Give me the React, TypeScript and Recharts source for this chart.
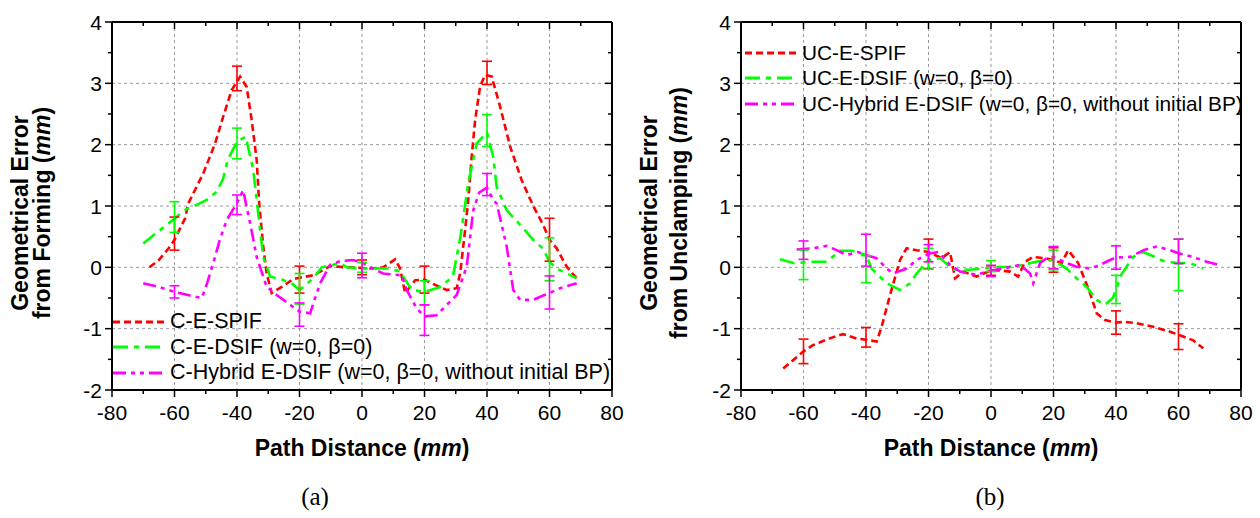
import React from 'react';
import { ComposedChart, Line, Scatter, XAxis, YAxis, ErrorBar, Legend, CartesianGrid } from 'recharts';

const FONT = '"Liberation Sans", Arial, Helvetica, sans-serif';

// ---------- axis ticks ----------
const xAllTicks = [-80, -70, -60, -50, -40, -30, -20, -10, 0, 10, 20, 30, 40, 50, 60, 70, 80];
const yAllTicks = [-2, -1.5, -1, -0.5, 0, 0.5, 1, 1.5, 2, 2.5, 3, 3.5, 4];
const gridX = [-60, -40, -20, 0, 20, 40, 60];
const gridY = [-1, 0, 1, 2, 3];
const errX = [-60, -40, -20, 0, 20, 40, 60];

// ---------- (a) forming ----------
const formSpif: [number, number][] = [
  [-68, 0.0], [-65, 0.12], [-61.4, 0.34], [-60, 0.45], [-56.6, 0.8], [-55.6, 1.04], [-50.8, 1.53], [-47, 2.02],
  [-44.4, 2.46], [-41.7, 2.89], [-39, 3.11], [-36.9, 2.94], [-35.3, 2.4], [-33.7, 1.75], [-32.9, 1.04],
  [-31.6, 0.34], [-30.5, -0.1], [-28.9, -0.42], [-25.7, -0.32], [-22, -0.19], [-20, -0.17], [-15.6, -0.13],
  [-10.2, 0.02], [-5, 0.0], [-2.8, 0.0], [2.6, -0.02], [6.8, 0.0], [10.6, 0.13], [12.2, -0.02], [13.8, -0.42],
  [17, -0.21], [20, -0.2], [22.3, -0.26], [27.1, -0.37], [30.3, -0.34], [31.4, -0.1], [33, 0.61], [34, 1.1],
  [35.1, 1.8], [36.2, 2.4], [37.8, 2.95], [39.4, 3.14], [41.5, 3.11], [44.2, 2.62], [47.4, 1.97], [51.1, 1.42],
  [54.8, 1.0], [58, 0.69], [60, 0.45], [62.3, 0.31], [65.5, 0.01], [68.7, -0.18],
];
const formDsif: [number, number][] = [
  [-70, 0.39], [-67.3, 0.5], [-60, 0.79], [-57, 0.93], [-54, 0.99], [-49.7, 1.1], [-46.5, 1.23], [-44.4, 1.45],
  [-43, 1.75], [-40, 2.05], [-37.2, 2.13], [-34.8, 1.59], [-33.7, 1.1], [-31.6, 0.17], [-29.4, -0.15],
  [-25.7, -0.2], [-22.5, -0.26], [-20, -0.37], [-15.6, -0.18], [-12.9, 0.0], [-9.2, 0.04], [-7, 0.07],
  [-4.9, 0.0], [0, -0.02], [9, -0.02], [12.2, -0.07], [15.9, -0.37], [20, -0.4], [25, -0.32], [29.1, -0.15],
  [31.5, 0.5], [34, 1.37], [36.7, 2.02], [40, 2.2], [42, 1.8], [43.1, 1.31], [46.3, 0.93], [50.5, 0.7],
  [54.8, 0.45], [58, 0.3], [60, 0.09], [62.3, -0.02], [65.5, -0.1], [68.7, -0.18],
];
const formHybrid: [number, number][] = [
  [-70, -0.26], [-65, -0.32], [-60, -0.4], [-55, -0.46], [-51.3, -0.5], [-49.5, -0.25], [-47.6, 0.07],
  [-45.5, 0.45], [-43.3, 0.77], [-40, 1.05], [-38, 1.26], [-36.8, 0.95], [-35.8, 0.72], [-33.7, 0.17],
  [-30.5, -0.32], [-27.3, -0.45], [-23, -0.61], [-20, -0.72], [-16.6, -0.75], [-15, -0.5], [-13.4, -0.26],
  [-10.2, 0.04], [-7, 0.1], [-3, 0.12], [0, 0.08], [3.5, -0.02], [6.8, -0.1], [12.7, -0.13], [14.3, -0.37],
  [17.5, -0.67], [20, -0.8], [23.9, -0.78], [27, -0.62], [30.3, -0.45], [33.5, 0.01], [35.6, 0.93],
  [37.5, 1.22], [40, 1.3], [42, 1.1], [43.1, 1.04], [46.3, 0.34], [48.4, -0.37], [50.6, -0.53],
  [54.8, -0.53], [58, -0.46], [60, -0.42], [63.4, -0.34], [68.7, -0.26],
];
const formSpifBar = [0.55, 3.08, -0.2, 0.0, -0.2, 3.17, 0.45];
const formSpifErr = [0.27, 0.2, 0.22, 0.12, 0.22, 0.19, 0.35];
const formDsifBar = [0.82, 2.02, -0.35, 0.0, -0.42, 2.23, 0.13];
const formDsifErr = [0.25, 0.25, 0.25, 0.08, 0.2, 0.26, 0.35];
const formHybridBar = [-0.4, 1.02, -0.77, 0.03, -0.86, 1.35, -0.41];
const formHybridErr = [0.1, 0.16, 0.19, 0.2, 0.25, 0.18, 0.27];

// ---------- (b) unclamping ----------
const unSpif: [number, number][] = [
  [-66.5, -1.65], [-63, -1.5], [-60, -1.37], [-57, -1.27], [-53.7, -1.2], [-50, -1.13], [-47.3, -1.09],
  [-43, -1.16], [-40, -1.18], [-36.6, -1.21], [-35, -0.97], [-32.3, -0.45], [-29.1, 0.12], [-27, 0.31],
  [-23.8, 0.28], [-20, 0.25], [-15.8, 0.15], [-13.1, 0.25], [-11.5, -0.18], [-8.9, -0.07], [-4.6, -0.15],
  [0, -0.05], [3, -0.05], [6.1, -0.07], [8.7, -0.15], [10.9, 0.09], [13.5, 0.17], [17, 0.15], [20, 0.12],
  [22.6, 0.07], [24.7, 0.28], [27.9, 0.07], [31.7, -0.42], [33.8, -0.75], [36.5, -0.86], [40, -0.9],
  [43, -0.89], [46.6, -0.91], [51.9, -0.97], [57.3, -1.05], [60, -1.1], [64.7, -1.19], [67.9, -1.32],
];
const unDsif: [number, number][] = [
  [-67.5, 0.13], [-63.3, 0.07], [-60, 0.08], [-56.9, 0.09], [-52.6, 0.09], [-48.3, 0.27], [-44.6, 0.27],
  [-40, 0.2], [-38.2, -0.02], [-33.4, -0.26], [-29.1, -0.37], [-25.9, -0.26], [-23.8, -0.1], [-20, 0.12],
  [-16.3, 0.15], [-12.1, -0.04], [-6.7, -0.04], [0, 0.0], [6.1, 0.01], [10.3, 0.04], [15.1, 0.1], [20, 0.12],
  [24.2, -0.02], [27.4, -0.18], [30.6, -0.32], [33.8, -0.53], [36.5, -0.61], [39, -0.5], [41.8, -0.11],
  [45.5, 0.17], [48.8, 0.25], [51.9, 0.18], [55.7, 0.09], [60, 0.07], [63.7, 0.07], [67.9, -0.02],
];
const unHybrid: [number, number][] = [
  [-62.2, 0.29], [-60, 0.3], [-56.9, 0.31], [-52.6, 0.35], [-49.4, 0.28], [-46.2, 0.2], [-42.5, 0.25],
  [-40, 0.2], [-36.6, 0.15], [-33.4, -0.02], [-31.3, -0.1], [-27, -0.02], [-23.8, 0.12], [-20, 0.22],
  [-16.9, 0.25], [-13.1, 0.04], [-9.9, -0.07], [-4.6, -0.12], [0, -0.05], [3.9, -0.02], [9.3, 0.04],
  [12.5, -0.1], [13.5, -0.26], [15.7, 0.07], [17.8, 0.15], [20, 0.17], [24.2, 0.07], [27.4, 0.01],
  [31.7, -0.02], [34.9, 0.04], [38.1, 0.12], [40, 0.16], [44.5, 0.17], [48.8, 0.28], [53, 0.34],
  [57.3, 0.28], [60, 0.23], [64.7, 0.17], [69, 0.09], [72.7, 0.04],
];
const unSpifBar = [-1.37, -1.14, 0.22, -0.05, 0.12, -0.9, -1.13];
const unSpifErr = [0.2, 0.16, 0.24, 0.08, 0.2, 0.19, 0.21];
const unDsifBar = [0.04, -0.03, 0.14, 0.02, 0.12, -0.36, 0.04];
const unDsifErr = [0.24, 0.22, 0.17, 0.09, 0.16, 0.23, 0.42];
const unHybridBar = [0.28, 0.28, 0.23, -0.06, 0.16, 0.16, 0.26];
const unHybridErr = [0.15, 0.26, 0.14, 0.09, 0.18, 0.19, 0.2];

const legendA = ['C-E-SPIF', 'C-E-DSIF (w=0, β=0)', 'C-Hybrid E-DSIF (w=0, β=0, without initial BP)'];
const legendB = ['UC-E-SPIF', 'UC-E-DSIF (w=0, β=0)', 'UC-Hybrid E-DSIF (w=0, β=0, without initial BP)'];

// ---------- styles ----------
const COLORS = ['#ff0000', '#00ff00', '#ff00ff'];
const DASHES = ['7 4', '15 6 5 6', '13 5 4 5 4 5'];

const toPts = (arr: [number, number][]) => arr.map(([x, y]) => ({ x, y }));
const toBars = (mean: number[], err: number[]) => errX.map((x, i) => ({ x, y: mean[i], e: err[i] }));

// ---------- tick renderers ----------
const BottomTick = (p: any) => {
  const { x, y, payload } = p;
  const v = payload.value;
  const major = v % 20 === 0;
  return (
    <g>
      <line x1={x} y1={y} x2={x} y2={y + (major ? 7 : 4)} stroke="#000" strokeWidth={1.5} />
      {major && (
        <text x={x} y={y + 30} textAnchor="middle" fontFamily={FONT} fontSize={21} fill="#000">{v}</text>
      )}
    </g>
  );
};
const TopTick = (p: any) => {
  const { x, y, payload } = p;
  const major = payload.value % 20 === 0;
  return <line x1={x} y1={y} x2={x} y2={y + (major ? 7 : 4)} stroke="#000" strokeWidth={1.5} />;
};
const LeftTick = (p: any) => {
  const { x, y, payload } = p;
  const v = payload.value;
  const major = Number.isInteger(v);
  return (
    <g>
      <line x1={x} y1={y} x2={x - (major ? 7 : 4)} y2={y} stroke="#000" strokeWidth={1.5} />
      {major && (
        <text x={x - 10} y={y} dy="0.36em" textAnchor="end" fontFamily={FONT} fontSize={21} fill="#000">{v}</text>
      )}
    </g>
  );
};
const RightTick = (p: any) => {
  const { x, y, payload } = p;
  const major = Number.isInteger(payload.value);
  return <line x1={x} y1={y} x2={x - (major ? 7 : 4)} y2={y} stroke="#000" strokeWidth={1.5} />;
};

// ---------- titles ----------
const XTitle = (p: any) => (
  <g>
    <text x={p.cx} y={456} textAnchor="middle" fontFamily={FONT} fontSize={23} fontWeight="bold" fill="#000">
      Path Distance (<tspan fontStyle="italic">mm</tspan>)
    </text>
    <text x={p.tagX} y={505} textAnchor="middle" fontFamily='"Liberation Serif", "Times New Roman", serif' fontSize={25} fill="#000">
      {p.tag}
    </text>
  </g>
);
const YTitle = (p: any) => (
  <g>
    <text transform={`rotate(-90, ${p.x1}, ${p.cy})`} x={p.x1} y={p.cy} textAnchor="middle" fontFamily={FONT} fontSize={23} fontWeight="bold" fill="#000">
      Geometrical Error
    </text>
    <text transform={`rotate(-90, ${p.x2}, ${p.cy})`} x={p.x2} y={p.cy} textAnchor="middle" fontFamily={FONT} fontSize={23} fontWeight="bold" fill="#000">
      {p.line2} (<tspan fontStyle="italic">mm</tspan>)
    </text>
  </g>
);

const LegendBox = ({ labels, fontSize }: { labels: string[]; fontSize: number }) => (
  <div style={{ fontFamily: FONT, fontSize, color: '#000' }}>
    {labels.map((l, i) => (
      <div key={l} style={{ display: 'flex', alignItems: 'center', height: 25.5, whiteSpace: 'nowrap' }}>
        <svg width={52} height={8} style={{ display: 'block' }}>
          <line x1={0} y1={4} x2={52} y2={4} stroke={COLORS[i]} strokeWidth={3} strokeDasharray={DASHES[i]} />
        </svg>
        <span style={{ marginLeft: 5 }}>{l}</span>
      </div>
    ))}
  </div>
);

type PanelProps = {
  series: [number, number][][];
  bars: { x: number; y: number; e: number }[][];
  labels: string[];
  legendFont: number;
  yLine2: string;
  tag: string;
  marginRight: number;
  yWidth: number;
  legendPos: { left: number; top: number };
  titleX1: number;
  titleX2: number;
  tagDx: number;
};

const Panel = (pp: PanelProps) => {
  const plotCx = pp.yWidth + 250;
  return (
    <ComposedChart width={630} height={518} margin={{ top: 22, right: pp.marginRight, bottom: 0, left: 0 }}>
      <CartesianGrid
        stroke="#9a9a9a"
        strokeDasharray="3 3"
        strokeWidth={1}
        verticalValues={gridX}
        horizontalValues={gridY}
      />
      <XAxis
        xAxisId={0}
        type="number"
        dataKey="x"
        domain={[-80, 80]}
        ticks={xAllTicks}
        interval={0}
        tickSize={0}
        tickMargin={0}
        tickLine={false}
        allowDataOverflow
        axisLine={{ stroke: '#000', strokeWidth: 2 }}
        height={128}
        tick={(p: any) => <BottomTick {...p} />}
        label={<XTitle cx={plotCx} tagX={plotCx + pp.tagDx} tag={pp.tag} />}
      />
      <XAxis
        xAxisId="t"
        orientation="top"
        mirror
        type="number"
        dataKey="x"
        domain={[-80, 80]}
        ticks={xAllTicks}
        interval={0}
        tickSize={0}
        tickMargin={0}
        tickLine={false}
        allowDataOverflow
        axisLine={{ stroke: '#000', strokeWidth: 2 }}
        tick={(p: any) => <TopTick {...p} />}
      />
      <YAxis
        yAxisId={0}
        type="number"
        domain={[-2, 4]}
        ticks={yAllTicks}
        interval={0}
        tickSize={0}
        tickMargin={0}
        tickLine={false}
        allowDataOverflow
        axisLine={{ stroke: '#000', strokeWidth: 2 }}
        width={pp.yWidth}
        tick={(p: any) => <LeftTick {...p} />}
        label={<YTitle x1={pp.titleX1} x2={pp.titleX2} cy={213} line2={pp.yLine2} />}
      />
      <YAxis
        yAxisId="r"
        orientation="right"
        mirror
        type="number"
        domain={[-2, 4]}
        ticks={yAllTicks}
        interval={0}
        tickSize={0}
        tickMargin={0}
        tickLine={false}
        allowDataOverflow
        axisLine={{ stroke: '#000', strokeWidth: 2 }}
        tick={(p: any) => <RightTick {...p} />}
      />
      {pp.series.map((s, i) => (
        <Line
          key={'l' + i}
          data={toPts(s)}
          dataKey="y"
          type="linear"
          stroke={COLORS[i]}
          strokeWidth={2.6}
          strokeDasharray={DASHES[i]}
          dot={false}
          activeDot={false}
          isAnimationActive={false}
          legendType="none"
        />
      ))}
      {pp.bars.map((b, i) => (
        <Scatter
          key={'s' + i}
          data={b}
          dataKey="y"
          shape={() => <g />}
          isAnimationActive={false}
          legendType="none"
        >
          <ErrorBar dataKey="e" direction="y" width={5} stroke={COLORS[i]} strokeWidth={1.6} isAnimationActive={false} />
        </Scatter>
      ))}
      <Legend
        layout="vertical"
        align="center"
        verticalAlign="middle"
        wrapperStyle={{ left: pp.legendPos.left, top: pp.legendPos.top, width: 'auto', height: 'auto' }}
        content={() => <LegendBox labels={pp.labels} fontSize={pp.legendFont} />}
      />
    </ComposedChart>
  );
};

export default function App() {
  return (
    <div style={{ position: 'absolute', left: 0, top: 0, width: 1260, height: 518, background: '#fff', overflow: 'hidden' }}>
      <div style={{ position: 'absolute', left: 0, top: 0 }}>
        <Panel
          series={[formSpif, formDsif, formHybrid]}
          bars={[toBars(formSpifBar, formSpifErr), toBars(formDsifBar, formDsifErr), toBars(formHybridBar, formHybridErr)]}
          labels={legendA}
          legendFont={21.5}
          yLine2="from Forming"
          tag="(a)"
          marginRight={18}
          yWidth={112}
          legendPos={{ left: 113, top: 309 }}
          titleX1={28}
          titleX2={50}
          tagDx={-47}
        />
      </div>
      <div style={{ position: 'absolute', left: 630, top: 0 }}>
        <Panel
          series={[unSpif, unDsif, unHybrid]}
          bars={[toBars(unSpifBar, unSpifErr), toBars(unDsifBar, unDsifErr), toBars(unHybridBar, unHybridErr)]}
          labels={legendB}
          legendFont={20.8}
          yLine2="from Unclamping"
          tag="(b)"
          marginRight={19}
          yWidth={111}
          legendPos={{ left: 115, top: 40 }}
          titleX1={27}
          titleX2={57}
          tagDx={-1}
        />
      </div>
    </div>
  );
}
